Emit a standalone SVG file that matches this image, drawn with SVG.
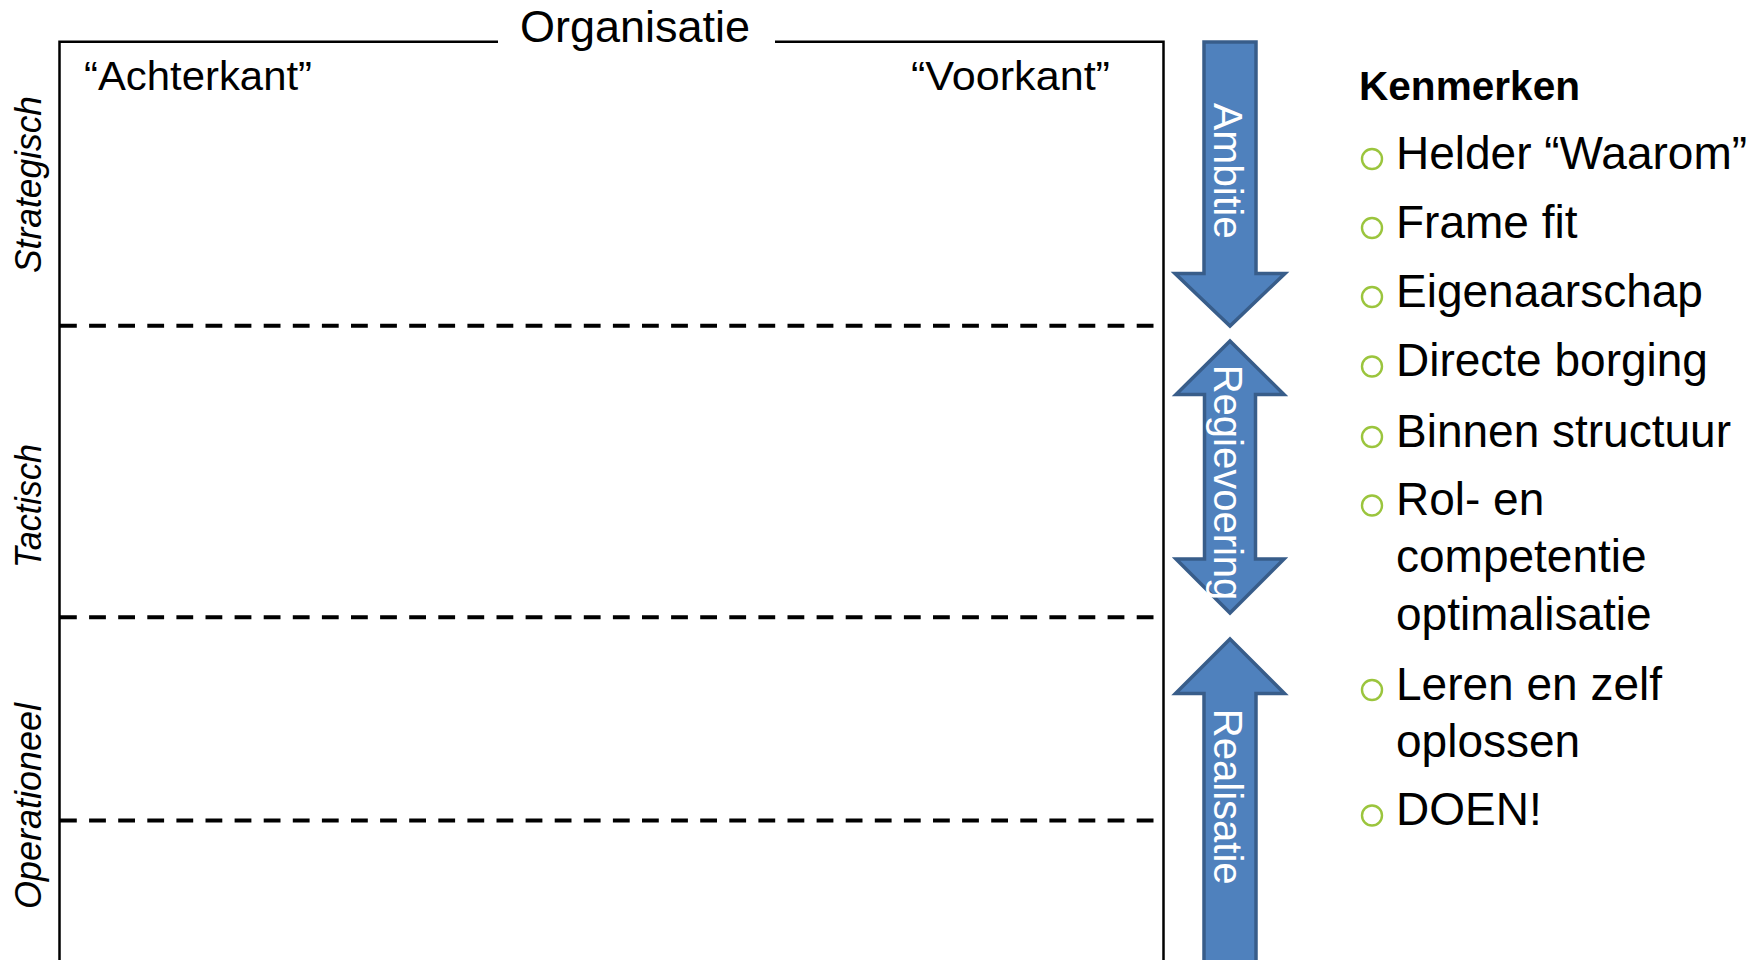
<svg xmlns="http://www.w3.org/2000/svg" width="1764" height="960" viewBox="0 0 1764 960">
  <style>
    .frame { fill: none; stroke: #000; stroke-width: 2.5; }
    .dash { stroke: #000; stroke-width: 4; stroke-dasharray: 16.8 12.3; fill: none; }
    .t { font-family: "Liberation Sans", Arial, sans-serif; fill: #000; }
    .side { font-family: "Liberation Sans", Arial, sans-serif; font-style: italic; font-size: 36px; fill: #000; text-anchor: middle; }
    .arrow { fill: #4F81BD; stroke: #385D8A; stroke-width: 3.5; stroke-linejoin: miter; }
    .atext { font-family: "Liberation Sans", Arial, sans-serif; font-size: 40px; fill: #fff; text-anchor: middle; }
    .item { font-family: "Liberation Sans", Arial, sans-serif; font-size: 46px; fill: #000; }
    .bullet { fill: none; stroke: #9BC53D; stroke-width: 2.4; }
  </style>
  <rect width="1764" height="960" fill="#fff"/>

  <g id="frame">
    <path class="frame" d="M59.5,970 V41.7 H498 M775,41.7 H1163.5 V970"/>
    <text class="t" x="635" y="42" font-size="45" text-anchor="middle">Organisatie</text>
    <text class="t" x="84" y="89.5" font-size="41" textLength="228" lengthAdjust="spacingAndGlyphs">“Achterkant”</text>
    <text class="t" x="911" y="89.5" font-size="41" textLength="199" lengthAdjust="spacingAndGlyphs">“Voorkant”</text>
  </g>

  <g id="dividers">
    <line class="dash" x1="60" y1="325.7" x2="1154" y2="325.7"/>
    <line class="dash" x1="60" y1="617.3" x2="1154" y2="617.3"/>
    <line class="dash" x1="60" y1="820.5" x2="1154" y2="820.5"/>
  </g>

  <g id="levels">
    <text class="side" transform="translate(41,184.5) rotate(-90)" textLength="177" lengthAdjust="spacingAndGlyphs">Strategisch</text>
    <text class="side" transform="translate(41,506) rotate(-90)" textLength="124" lengthAdjust="spacingAndGlyphs">Tactisch</text>
    <text class="side" transform="translate(41,806) rotate(-90)" textLength="206" lengthAdjust="spacingAndGlyphs">Operationeel</text>
  </g>

  <g id="arrow-ambitie">
    <path class="arrow" d="M1204,42 H1256 V273.5 H1285 L1230,326 L1175,273.5 H1204 Z"/>
    <text class="atext" transform="translate(1214,171) rotate(90)" textLength="136" lengthAdjust="spacingAndGlyphs">Ambitie</text>
  </g>

  <g id="arrow-regievoering">
    <path class="arrow" d="M1230,341 L1284,394.5 H1255.5 V559 H1284 L1230,613 L1176,559 H1204.5 V394.5 H1176 Z"/>
    <text class="atext" transform="translate(1214,482.5) rotate(90)">Regievoering</text>
  </g>

  <g id="arrow-realisatie">
    <path class="arrow" d="M1230,639 L1284.5,693.5 H1256 V975 H1204 V693.5 H1175.5 Z"/>
    <text class="atext" transform="translate(1214,796.7) rotate(90)" font-size="39">Realisatie</text>
  </g>

  <g id="kenmerken">
    <text class="t" x="1359" y="100" font-size="41" font-weight="bold" textLength="221" lengthAdjust="spacingAndGlyphs">Kenmerken</text>
    <circle class="bullet" cx="1372" cy="159" r="10"/>
    <text class="item" x="1396" y="168.5">Helder “Waarom”</text>
    <circle class="bullet" cx="1372" cy="228" r="10"/>
    <text class="item" x="1396" y="237.5">Frame fit</text>
    <circle class="bullet" cx="1372" cy="297" r="10"/>
    <text class="item" x="1396" y="306.5">Eigenaarschap</text>
    <circle class="bullet" cx="1372" cy="366.5" r="10"/>
    <text class="item" x="1396" y="376">Directe borging</text>
    <circle class="bullet" cx="1372" cy="437" r="10"/>
    <text class="item" x="1396" y="446.5">Binnen structuur</text>
    <circle class="bullet" cx="1372" cy="505.5" r="10"/>
    <text class="item" x="1396" y="515">Rol- en</text>
    <text class="item" x="1396" y="572">competentie</text>
    <text class="item" x="1396" y="630">optimalisatie</text>
    <circle class="bullet" cx="1372" cy="690" r="10"/>
    <text class="item" x="1396" y="699.5">Leren en zelf</text>
    <text class="item" x="1396" y="757">oplossen</text>
    <circle class="bullet" cx="1372" cy="815.5" r="10"/>
    <text class="item" x="1396" y="825">DOEN!</text>
  </g>

  <g id="connectors"/>
</svg>
